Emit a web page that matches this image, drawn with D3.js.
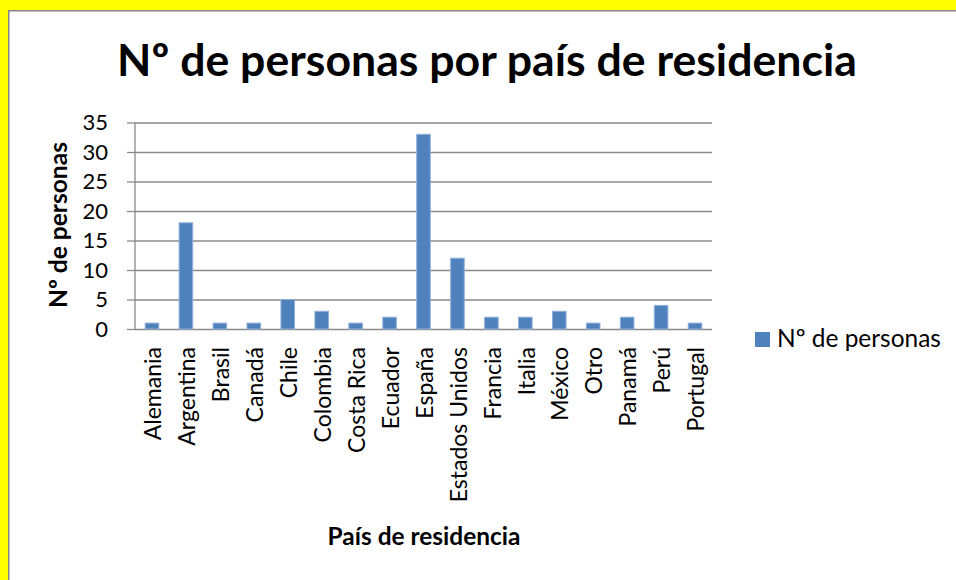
<!DOCTYPE html>
<html>
<head>
<meta charset="utf-8">
<title>Nº de personas por país de residencia</title>
<style>
  html, body { margin: 0; padding: 0; overflow: hidden; background: #fff; }
  svg { display: block; font-family: Lato, "Open Sans", sans-serif; }
  .grid line { stroke: #8a8a8a; stroke-width: 1.3; }
  .grid path { display: none; }
  .yaxis path { display: none; }
  .yaxis line { stroke: #8a8a8a; stroke-width: 1.3; }
  .yaxis text { font-family: Lato, "Open Sans", sans-serif; font-size: 22px; fill: #000; }
  .xlabel { font-size: 23px; fill: #000; }
  .bar { fill: #4f81bd; stroke: #8fb0da; stroke-width: 1; }
</style>
</head>
<body>
<script src="https://d3js.org/d3.v7.min.js"></script>
<script>
// data
var countries = ["Alemania", "Argentina", "Brasil", "Canadá", "Chile", "Colombia", "Costa Rica",
  "Ecuador", "España", "Estados Unidos", "Francia", "Italia", "México", "Otro", "Panamá", "Perú", "Portugal"];
var personas = [1, 18, 1, 1, 5, 3, 1, 2, 33, 12, 2, 2, 3, 1, 2, 4, 1];
var yTicks = [0, 5, 10, 15, 20, 25, 30, 35];

var W = 956, H = 580;
var plot = {left: 135, right: 712, top: 122.5, bottom: 329};

var svg = d3.select("body").append("svg")
  .attr("width", W)
  .attr("height", H);

// yellow strips on the left and top only, chart area runs off right and bottom
svg.append("rect")
  .attr("x", 0).attr("y", 0)
  .attr("width", 8).attr("height", H)
  .attr("fill", "#ffff00");
svg.append("rect")
  .attr("x", 0).attr("y", 0)
  .attr("width", W).attr("height", 10)
  .attr("fill", "#ffff00");

svg.append("path")
  .attr("d", "M8.75," + H + "V10.75H" + W)
  .attr("fill", "none")
  .attr("stroke", "#868686")
  .attr("stroke-width", 1.5);

var x = d3.scaleBand()
  .domain(countries)
  .range([plot.left, plot.right])
  .paddingInner(0.6)
  .paddingOuter(0.3);

var y = d3.scaleLinear()
  .domain([0, 35])
  .range([plot.bottom, plot.top]);

// gridlines
svg.append("g")
  .attr("class", "grid")
  .attr("transform", "translate(" + plot.left + ",0)")
  .call(d3.axisLeft(y).tickValues(yTicks).tickSize(-(plot.right - plot.left)).tickFormat(""));

// y axis with short outer ticks
var yg = svg.append("g")
  .attr("class", "yaxis")
  .attr("transform", "translate(" + plot.left + ",0)")
  .call(d3.axisLeft(y).tickValues(yTicks).tickSize(8).tickPadding(19));
yg.attr("font-family", null).attr("font-size", null);
yg.select(".domain").remove();

svg.append("line")
  .attr("x1", plot.left).attr("x2", plot.left)
  .attr("y1", y(35)).attr("y2", y(0))
  .attr("stroke", "#8a8a8a").attr("stroke-width", 1.3);

// bars
svg.selectAll(".bar")
  .data(personas)
  .enter()
  .append("rect")
  .attr("class", "bar")
  .attr("x", function(d, i){ return x(countries[i]); })
  .attr("y", function(d){ return y(d); })
  .attr("width", x.bandwidth())
  .attr("height", function(d){ return y(0) - y(d); });

// category labels, rotated
svg.selectAll(".xlabel")
  .data(countries)
  .enter()
  .append("text")
  .attr("class", "xlabel")
  .attr("text-anchor", "end")
  .attr("dy", "0.4em")
  .attr("transform", function(d){
    var cx = x(d) + x.bandwidth() / 2;
    return "translate(" + cx + "," + (plot.bottom + 18) + ") rotate(-90)";
  })
  .text(function(d){ return d; });

// shrink/grow a text so it spans the width measured on the picture
function fit(t, target){
  var size = parseFloat(t.style("font-size"));
  var w = t.node().getComputedTextLength();
  t.style("font-size", (size * target / w) + "px");
  return t;
}

var title = svg.append("text")
  .attr("x", 487).attr("y", 76)
  .attr("text-anchor", "middle")
  .style("font-weight", "bold")
  .style("font-size", "36px")
  .text("Nº de personas por país de residencia");
fit(title, 740);

var xt = svg.append("text")
  .attr("x", 424).attr("y", 545)
  .attr("text-anchor", "middle")
  .style("font-weight", "bold")
  .style("font-size", "20px")
  .text("País de residencia");
fit(xt, 193);

var yt = svg.append("text")
  .attr("transform", "translate(67,225) rotate(-90)")
  .attr("text-anchor", "middle")
  .style("font-weight", "bold")
  .style("font-size", "20px")
  .text("Nº de personas");
fit(yt, 166);

// legend
svg.append("rect")
  .attr("x", 755).attr("y", 332)
  .attr("width", 15).attr("height", 15)
  .attr("fill", "#4f81bd");

var lt = svg.append("text")
  .attr("x", 777).attr("y", 347)
  .style("font-size", "22px")
  .text("Nº de personas");
fit(lt, 164);
</script>
</body>
</html>
